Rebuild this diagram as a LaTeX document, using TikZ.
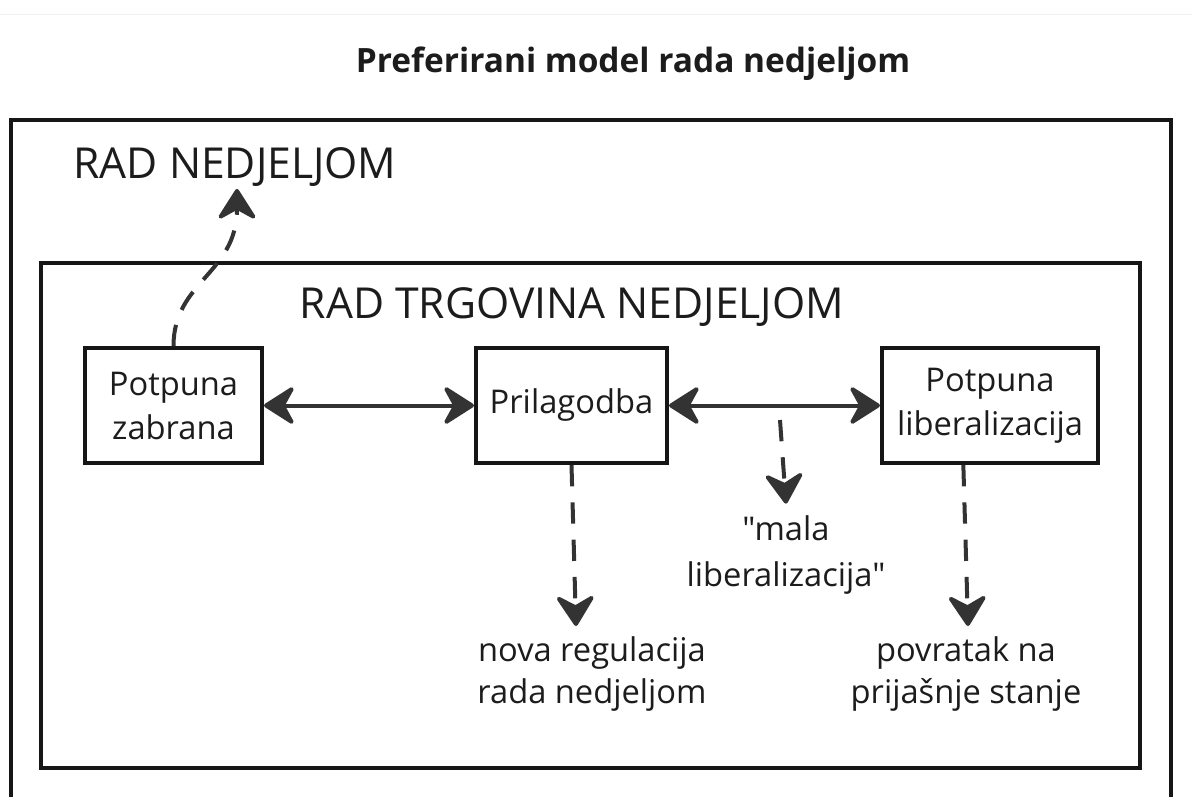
\documentclass[tikz,border=0pt]{standalone}
\usepackage{fontspec}
\setmainfont{Open Sans}[Ligatures=TeXOff]
\usetikzlibrary{arrows.meta}

\definecolor{inkgray}{HTML}{333333}
\definecolor{boxblack}{HTML}{161616}
\definecolor{textblack}{HTML}{1C1C1C}

\tikzset{
    frame/.style={draw=boxblack, line width=3pt},
    box/.style={draw=boxblack, line width=3pt, align=center, inner sep=0pt,
        minimum height=86.25pt, text=textblack,
        font=\fontsize{24.5}{33}\selectfont},
    note/.style={align=center, inner sep=2pt, text=textblack,
        font=\fontsize{24.5}{31}\selectfont},
    heading/.style={inner sep=2pt, text=textblack,
        font=\fontsize{32}{38}\selectfont},
    tip/.tip={Stealth[length=26pt, width=33pt, inset=9pt, round]},
    both/.style={draw=inkgray, fill=inkgray, line width=3pt, tip-tip},
    dashto/.style={draw=inkgray, line width=3pt, dash pattern=on 16pt off 12pt, -{tip[fill=inkgray]}}
}

\begin{document}
\begin{tikzpicture}[x=0.75pt, y=-0.75pt]
    \fill[white] (0,0) rectangle (1192,796);
    \clip (0,0) rectangle (1192,796);
    \draw[gray!12, line width=0.75pt] (0,14) -- (1192,14);

    % title
    \node[anchor=base, text=textblack, font=\bfseries\fontsize{25.1}{30}\selectfont] (title) at (633,72) {Preferirani model rada nedjeljom};

    % frames
    \draw[frame] (11,120) rectangle (1171,840);
    \draw[frame] (41,263) rectangle (1140,768);

    \node[heading, anchor=base] (radN) at (235,178) {RAD NEDJELJOM};
    \node[heading, anchor=base] (radTN) at (572,318) {RAD TRGOVINA NEDJELJOM};

    % the three models
    \node[box, minimum width=132.75pt] (zabrana) at (173.5,405.5) {Potpuna\\zabrana};
    \node[box, minimum width=143.25pt] (prilagodba) at (571.5,405.5) {Prilagodba};
    \node[box, minimum width=162pt] (liberal) at (990,405.5) {Potpuna\\liberalizacija};

    \draw[both] (zabrana) -- (prilagodba);
    \draw[both] (prilagodba) -- (liberal);

    % outcomes
    \node[note, anchor=north, font=\fontsize{24.5}{34}\selectfont] (mala) at (786,513) {"mala\\liberalizacija"};
    \node[note, anchor=north] (nova) at (592,634) {nova regulacija\\rada nedjeljom};
    \node[note, anchor=north] (povratak) at (966,634) {povratak na\\prijašnje stanje};

    \coordinate (malaTop) at (780,420);

    \draw[dashto] (zabrana.north) .. controls +(0,-65) and +(0,85) .. ([xshift=1.5pt]radN.south);
    \draw[dashto] (prilagodba.south) -- ([xshift=-12pt,yshift=6pt]nova.north);
    \draw[dashto] (malaTop) -- ([yshift=7pt]mala.north);
    \draw[dashto] ([xshift=-20pt]liberal.south) -- ([xshift=1.5pt,yshift=6pt]povratak.north);
\end{tikzpicture}
\end{document}
